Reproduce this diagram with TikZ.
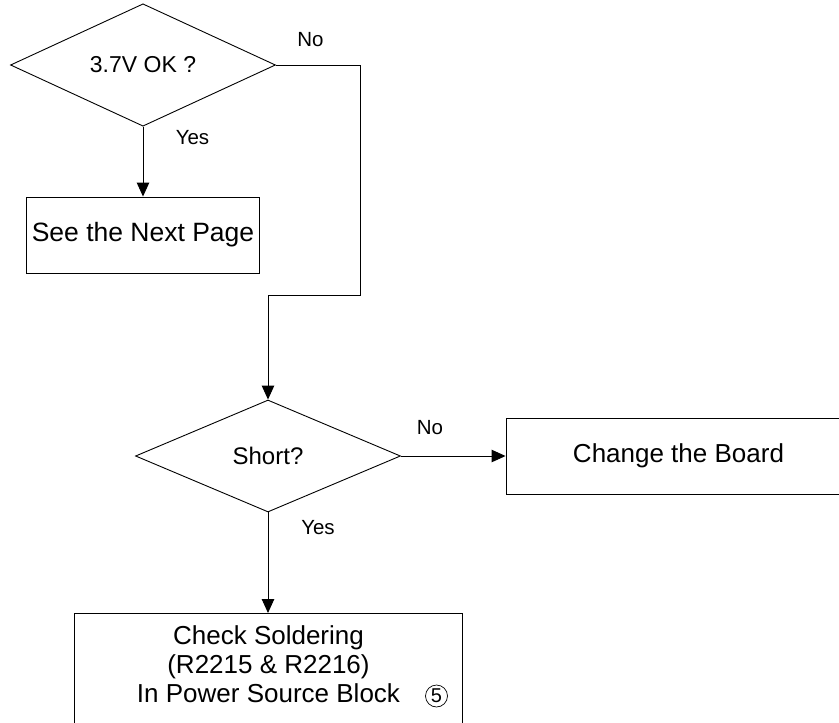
\documentclass[tikz,border=0pt]{standalone}
\usepackage{fontspec}
\setmainfont{Liberation Sans}
\usetikzlibrary{shapes.geometric,arrows.meta}
\tikzset{
  decision/.style={draw, diamond, inner sep=0pt, minimum width=265pt},
  action/.style={draw, rectangle, align=center, inner sep=0pt, font=\fontsize{26}{29}\selectfont},
  answer/.style={font=\fontsize{20.5}{22}\selectfont},
  flow/.style={-{Triangle[length=14pt,width=12.5pt]}, line width=0.9pt}
}
\begin{document}
\begin{tikzpicture}[x=1pt,y=-1pt,line width=0.9pt]
\useasboundingbox (0,0) rectangle (839,723);
\node[decision, minimum height=113pt, font=\fontsize{23}{25}\selectfont] (ok) at (143,65) {3.7V OK ?};
\node[action, minimum width=233pt, minimum height=76pt, font=\fontsize{26.5}{29}\selectfont] (next) at (143,235) {See the Next Page};
\node[decision, minimum height=112pt, font=\fontsize{24}{26}\selectfont] (short) at (268,456) {Short?};
\node[action, minimum width=345pt, minimum height=76pt] (board) at (678.5,456) {Change the Board};
\node[action, anchor=north, minimum width=388pt, minimum height=130pt] (solder) at (268,613) {};
\node[align=center, inner sep=0pt, font=\fontsize{26}{29}\selectfont] (soldertext) at (268.5,664.5) {Check Soldering\\(R2215 \& R2216)\\In Power Source Block};
\node[draw, circle, line width=0.7pt, minimum size=22pt, inner sep=0pt, font=\fontsize{20}{22}\selectfont] (five) at (436.5,696) {5};
\coordinate (bend) at (360,295);
\node[answer] (yes1) at (192.5,138) {Yes};
\node[answer] (no1) at (310.5,40) {No};
\node[answer] (no2) at (430,428) {No};
\node[answer] (yes2) at (318,528) {Yes};
\draw[flow] (ok.south) -- (next.north);
\draw[flow] (ok.east) -| (bend) -| (short.north);
\draw[flow] (short.east) -- (board.west);
\draw[flow] (short.south) -- (solder.north);
\end{tikzpicture}
\end{document}
